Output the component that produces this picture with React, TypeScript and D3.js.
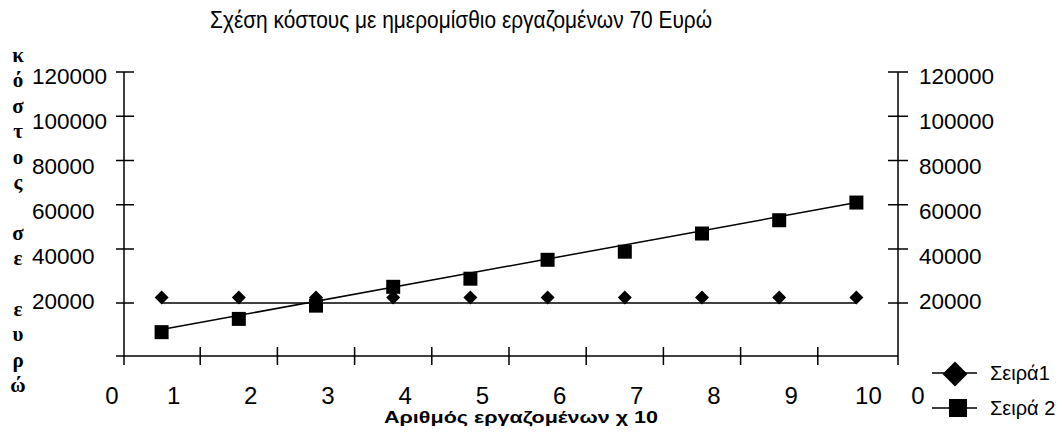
import React from "react";
import * as d3 from "d3";

// ---- data ----
const categories = [1, 2, 3, 4, 5, 6, 7, 8, 9, 10];
const series1 = [22000, 22000, 22000, 22000, 22000, 22000, 22000, 22000, 22000, 22000];
const series2 = [9000, 14000, 19000, 26000, 29000, 36000, 39000, 47000, 53000, 61000];
const series1Line = [20000, 20000]; // line from first to last category
const series2Line = [10000, 61000];
const yTicks = [20000, 40000, 60000, 80000, 100000, 120000];
const xTickLabels = ["1", "2", "3", "4", "5", "6", "7", "8", "9", "10"];
const zeroLabel = "0";
const legendLabels = ["Σειρά1", "Σειρά 2"];
const title = "Σχέση κόστους με ημερομίσθιο εργαζομένων 70 Ευρώ";
const xTitle = "Αριθμός εργαζομένων χ 10";
const yTitle = "κόστος σε ευρώ";

const W = 1063;
const H = 432;
const leftAxisX = 124;
const rightAxisX = 898;
const sans = "'Liberation Sans', Arial, sans-serif";
const serif = "'Liberation Serif', 'Times New Roman', serif";

export default function App() {
  const x = d3.scaleLinear().domain([0.5, 10.5]).range([123, 895]);
  const y = d3.scaleLinear().domain([0, 20000, 40000, 120000]).range([356, 303, 249, 72]);
  const yLabel = d3.scaleLinear().domain([20000, 120000]).range([309, 84]);

  const line = d3
    .line<[number, number]>()
    .x((d) => x(d[0]))
    .y((d) => y(d[1]));

  const first = categories[0];
  const last = categories[categories.length - 1];
  const s1Path = line([
    [first, series1Line[0]],
    [last, series1Line[1]],
  ]);
  const s2Path = line([
    [first, series2Line[0]],
    [last, series2Line[1]],
  ]);

  const diamond = (r: number) => `M0,${-r}L${r},0L0,${r}L${-r},0Z`;
  const y0 = y(0);
  const yTop = y(120000);
  const tickBoundaries = categories.slice(0, -1).map((c) => c + 0.5);

  const yTitleChars = Array.from(yTitle);

  return (
    <svg
      width={W}
      height={H}
      style={{ position: "absolute", left: 0, top: 0, background: "#fff" }}
    >
      <rect width={W} height={H} fill="#fff" />
      {/* title */}
      <text
        x={461}
        y={28}
        textAnchor="middle"
        fontFamily={sans}
        fontSize={24}
        textLength={502}
        lengthAdjust="spacingAndGlyphs"
        fill="#000"
      >
        {title}
      </text>

      {/* vertical y title */}
      {yTitleChars.map((ch, i) =>
        ch === " " ? null : (
          <text
            key={i}
            x={18}
            y={55 + i * 25.4}
            textAnchor="middle"
            dominantBaseline="central"
            fontFamily={serif}
            fontWeight="bold"
            fontSize={21}
            fill="#000"
          >
            {ch}
          </text>
        )
      )}

      {/* axes */}
      <g stroke="#000" strokeWidth={1.5} fill="none">
        <line x1={leftAxisX} y1={yTop} x2={leftAxisX} y2={y0 + 9} />
        <line x1={rightAxisX} y1={yTop} x2={rightAxisX} y2={y0 + 9} />
        <line x1={leftAxisX - 8} y1={y0} x2={rightAxisX} y2={y0} />
        {yTicks.map((v) => (
          <g key={v}>
            <line x1={leftAxisX - 8} x2={leftAxisX + 10} y1={y(v)} y2={y(v)} />
            <line x1={rightAxisX - 10} x2={rightAxisX + 10} y1={y(v)} y2={y(v)} />
          </g>
        ))}
        {tickBoundaries.map((b) => (
          <line key={b} x1={x(b)} x2={x(b)} y1={y0 - 9} y2={y0 + 9} />
        ))}
      </g>

      {/* y tick labels */}
      {yTicks.map((v) => (
        <g key={v} fontFamily={sans} fontSize={22.5} fill="#000">
          <text x={32} y={yLabel(v)}>
            {v}
          </text>
          <text x={919} y={yLabel(v)}>
            {v}
          </text>
        </g>
      ))}

      {/* x tick labels */}
      <g fontFamily={sans} fontSize={24} fill="#000" textAnchor="middle">
        <text x={leftAxisX - 12} y={404}>
          {zeroLabel}
        </text>
        {categories.map((c, i) => (
          <text key={c} x={x(c) + 12} y={404}>
            {xTickLabels[i]}
          </text>
        ))}
        <text x={rightAxisX + 20} y={404}>
          {zeroLabel}
        </text>
      </g>

      {/* x title */}
      <text
        x={521}
        y={423}
        textAnchor="middle"
        fontFamily={sans}
        fontWeight="bold"
        fontSize={17}
        textLength={274}
        lengthAdjust="spacingAndGlyphs"
        fill="#000"
      >
        {xTitle}
      </text>

      {/* series lines */}
      <path d={s1Path || ""} stroke="#000" strokeWidth={1.5} fill="none" />
      <path d={s2Path || ""} stroke="#000" strokeWidth={1.5} fill="none" />

      {/* markers */}
      {categories.map((c, i) => (
        <path
          key={"d" + c}
          d={diamond(7)}
          transform={`translate(${x(c)},${y(series1[i])})`}
          fill="#000"
        />
      ))}
      {categories.map((c, i) => (
        <rect
          key={"s" + c}
          x={x(c) - 7}
          y={y(series2[i]) - 7}
          width={14}
          height={14}
          fill="#000"
        />
      ))}

      {/* legend */}
      <g>
        <line x1={932} x2={977} y1={373} y2={373} stroke="#000" strokeWidth={1.5} />
        <path d={diamond(12.5)} transform="translate(955,374)" fill="#000" />
        <text x={990} y={380} fontFamily={sans} fontSize={20} fill="#000">
          {legendLabels[0]}
        </text>
        <line x1={932} x2={977} y1={408} y2={408} stroke="#000" strokeWidth={1.5} />
        <rect x={949} y={399} width={18} height={18} fill="#000" />
        <text x={990} y={415} fontFamily={sans} fontSize={20} fill="#000">
          {legendLabels[1]}
        </text>
      </g>
    </svg>
  );
}
